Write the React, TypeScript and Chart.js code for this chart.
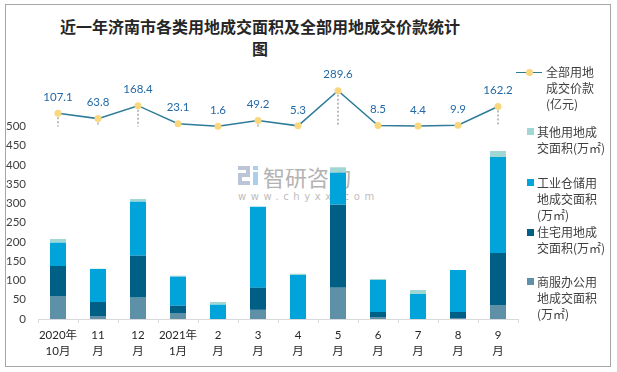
import React, { useEffect, useRef } from "react";
import { Chart, registerables } from "chart.js";

Chart.register(...registerables);

// ---- data ----
const categories: string[][] = [
  ["2020年", "10月"], ["11", "月"], ["12", "月"], ["2021年", "1月"], ["2", "月"], ["3", "月"],
  ["4", "月"], ["5", "月"], ["6", "月"], ["7", "月"], ["8", "月"], ["9", "月"],
];
const commercialArea = [59.7, 7.8, 55.3, 13.8, 0, 23.7, 0, 81.2, 5.2, 0, 2.6, 36.3];
const residentialArea = [77.8, 36.3, 108.9, 20.7, 0, 57.5, 0, 215.4, 13, 0, 15.6, 134.9];
const industrialArea = [60.5, 85.6, 140.2, 75.3, 37.1, 210.2, 114.2, 83, 83, 64.9, 108.9, 249.1];
const otherArea = [9.6, 0.8, 7, 2.6, 7, 0, 3.3, 14, 2.6, 10.3, 0, 15.6];
const landPrice = [107.1, 63.8, 168.4, 23.1, 1.6, 49.2, 5.3, 289.6, 8.5, 4.4, 9.9, 162.2];
const yTickMax = 500;

const C_COMM = "#5E90A8";
const C_RES = "#005F85";
const C_IND = "#00A3DA";
const C_OTH = "#A0D6D4";
const C_LINE = "#2E7C99";
const C_DOT = "#F9D77E";
const C_LABEL = "#2369A6";

const FONT = "Lato, 'Noto Sans CJK SC', sans-serif";

const lineExtras = {
  id: "lineExtras",
  beforeDatasetDraw(chart: any, args: any) {
    if (args.index !== 0) return;
    const meta = chart.getDatasetMeta(0);
    const y1 = chart.scales.y1;
    const base = y1.getPixelForValue(0);
    const ctx = chart.ctx;
    ctx.save();
    ctx.strokeStyle = "#A6A6A6";
    ctx.lineWidth = 1.5;
    ctx.setLineDash([2, 2]);
    meta.data.forEach((pt: any) => {
      if (base - pt.y > 3) {
        ctx.beginPath();
        ctx.moveTo(pt.x, pt.y);
        ctx.lineTo(pt.x, base);
        ctx.stroke();
      }
    });
    ctx.restore();
  },
  afterDatasetsDraw(chart: any) {
    const meta = chart.getDatasetMeta(0);
    const ctx = chart.ctx;
    ctx.save();
    ctx.fillStyle = C_LABEL;
    ctx.font = `11.5px ${FONT}`;
    ctx.textAlign = "center";
    ctx.textBaseline = "middle";
    meta.data.forEach((pt: any, i: number) => {
      ctx.fillText(String(landPrice[i]), pt.x, pt.y - 16);
    });
    ctx.restore();
  },
};

function ChartCanvas() {
  const ref = useRef<HTMLCanvasElement | null>(null);
  useEffect(() => {
    if (!ref.current) return;
    const barCommon = { yAxisID: "y", order: 1, barPercentage: 0.4, categoryPercentage: 1 };
    const chart = new Chart(ref.current, {
      type: "bar",
      data: {
        labels: categories as any,
        datasets: [
          {
            type: "line",
            label: "全部用地成交价款(亿元)",
            data: landPrice,
            yAxisID: "y1",
            order: 0,
            borderColor: C_LINE,
            borderWidth: 1.5,
            pointRadius: 3.5,
            pointHoverRadius: 3.5,
            pointBackgroundColor: C_DOT,
            pointBorderWidth: 0,
            pointBorderColor: C_DOT,
            tension: 0,
          } as any,
          { label: "商服办公用地成交面积(万㎡)", data: commercialArea, backgroundColor: C_COMM, ...barCommon },
          { label: "住宅用地成交面积(万㎡)", data: residentialArea, backgroundColor: C_RES, ...barCommon },
          { label: "工业仓储用地成交面积(万㎡)", data: industrialArea, backgroundColor: C_IND, ...barCommon },
          { label: "其他用地成交面积(万㎡)", data: otherArea, backgroundColor: C_OTH, ...barCommon },
        ],
      },
      options: {
        animation: false,
        responsive: true,
        maintainAspectRatio: false,
        devicePixelRatio: 1,
        layout: { padding: { top: 70, right: 99, left: 0, bottom: 0 } },
        plugins: { legend: { display: false }, title: { display: false }, tooltip: { enabled: false } },
        scales: {
          x: {
            stacked: true,
            grid: { display: true, offset: true, drawOnChartArea: false, drawTicks: true, tickLength: 4, color: "#D9D9D9" },
            border: { display: true, color: "#D9D9D9" },
            ticks: {
              font: { family: FONT, size: 11.5, lineHeight: "16px" } as any,
              color: "#262626",
              padding: 4,
              maxRotation: 0,
              autoSkip: false,
            },
            afterFit: (s: any) => { s.height = 53; },
          },
          y: {
            stacked: true,
            min: 0,
            max: 646,
            ticks: { stepSize: 50, font: { family: FONT, size: 11.5 }, color: "#404040", padding: 12 },
            grid: { display: false, drawTicks: false },
            border: { display: false },
            afterFit: (s: any) => { s.width = 38; },
            afterBuildTicks: (s: any) => { s.ticks = s.ticks.filter((t: any) => t.value <= yTickMax); },
          },
          y1: { display: false, min: -1557, max: 457, position: "right" },
        },
      } as any,
      plugins: [lineExtras],
    });
    return () => chart.destroy();
  }, []);
  return <canvas ref={ref} />;
}

const legendText: React.CSSProperties = {
  position: "absolute",
  fontFamily: "'Noto Sans CJK SC', sans-serif",
  fontSize: 12,
  lineHeight: "16px",
  color: "#404040",
  whiteSpace: "nowrap",
};

function Square({ y, color }: { y: number; color: string }) {
  return <div style={{ position: "absolute", left: 527, top: y - 3.5, width: 7, height: 7, background: color }} />;
}

export default function App() {
  const wmBlock = (l: number, t: number, w: number, h: number, c: string) => (
    <div style={{ position: "absolute", left: l, top: t, width: w, height: h, background: c }} />
  );
  return (
    <div style={{ position: "absolute", left: 0, top: 0, width: 617, height: 372, background: "#fff", overflow: "hidden" }}>
      {/* watermark (behind chart) */}
      <div style={{ position: "absolute", left: 0, top: 0, width: 617, height: 372 }}>
        {wmBlock(238, 166, 12, 4, "#BCC5D8")}
        {wmBlock(246, 166, 4, 11, "#BCC5D8")}
        {wmBlock(238, 173, 12, 4, "#BCC5D8")}
        {wmBlock(238, 173, 4, 12, "#BCC5D8")}
        {wmBlock(238, 181, 12, 4, "#BCC5D8")}
        {wmBlock(253, 166, 5, 4, "#A9D0EA")}
        {wmBlock(253, 172, 5, 13, "#A9D0EA")}
        <div style={{ position: "absolute", left: 263, top: 161, fontFamily: "'Noto Sans CJK SC', sans-serif", fontSize: 22, lineHeight: "30px", color: "#B3B3B3", whiteSpace: "nowrap" }}>智研咨询</div>
        <div style={{ position: "absolute", left: 238, top: 190, fontFamily: "'DejaVu Sans', sans-serif", fontSize: 10, lineHeight: "14px", letterSpacing: "4.6px", color: "#BDBDBD", whiteSpace: "nowrap" }}>www.chyxx.com</div>
      </div>
      {/* border */}
      <div style={{ position: "absolute", left: 5, top: 4, width: 606, height: 363, border: "1px solid #A6A6A6", boxSizing: "border-box" }} />
      {/* title */}
      <div style={{ position: "absolute", left: 60, top: 16, width: 400, textAlign: "center", fontFamily: "'Noto Sans CJK SC', sans-serif", fontWeight: "bold", fontSize: 16, lineHeight: "21.5px", color: "#262626", whiteSpace: "nowrap" }}>
        近一年济南市各类用地成交面积及全部用地成交价款统计<br />图
      </div>
      {/* chart */}
      <div style={{ position: "absolute", left: 0, top: 0, width: 617, height: 372 }}>
        <ChartCanvas />
      </div>
      {/* legend */}
      <div style={{ position: "absolute", left: 516, top: 71.5, width: 26, height: 1.5, background: C_LINE }} />
      <div style={{ position: "absolute", left: 525.5, top: 68.8, width: 7, height: 7, borderRadius: "50%", background: C_DOT }} />
      <div style={{ ...legendText, left: 546, top: 64 }}>全部用地<br />成交价款<br />(亿元)</div>
      <Square y={131.7} color={C_OTH} />
      <div style={{ ...legendText, left: 537, top: 123.7 }}>其他用地成<br />交面积(万㎡)</div>
      <Square y={182.7} color={C_IND} />
      <div style={{ ...legendText, left: 537, top: 174.7 }}>工业仓储用<br />地成交面积<br />(万㎡)</div>
      <Square y={232.3} color={C_RES} />
      <div style={{ ...legendText, left: 537, top: 224.3 }}>住宅用地成<br />交面积(万㎡)</div>
      <Square y={281.7} color={C_COMM} />
      <div style={{ ...legendText, left: 537, top: 273.7 }}>商服办公用<br />地成交面积<br />(万㎡)</div>
    </div>
  );
}
